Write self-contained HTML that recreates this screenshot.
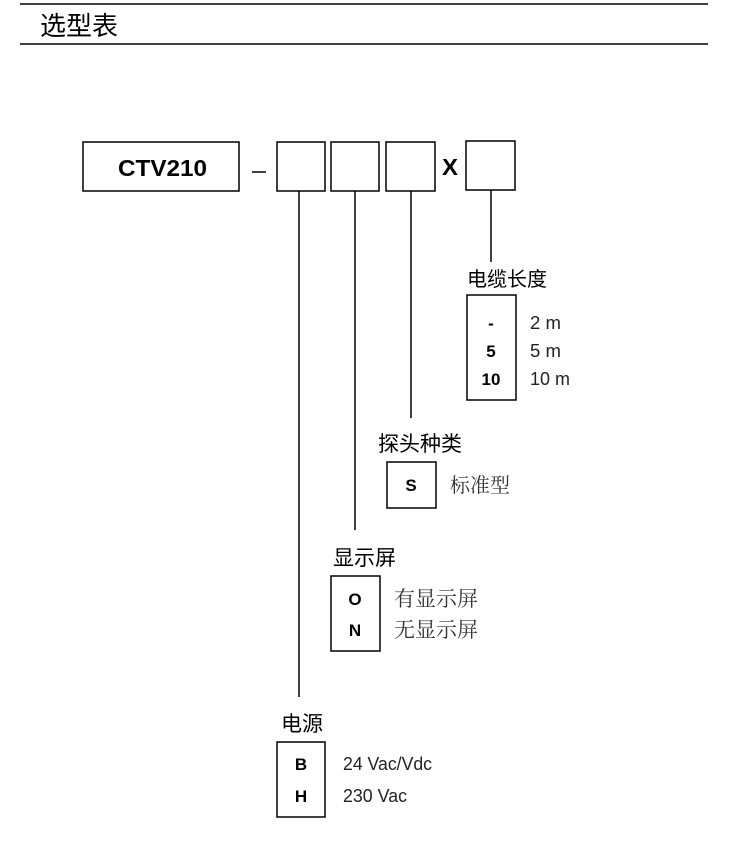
<!DOCTYPE html>
<html><head><meta charset="utf-8"><style>
body{margin:0;background:#fff;}
svg{display:block}
.cn{font-family:"Liberation Sans","Noto Sans CJK SC",sans-serif;}
.b{font-family:"Liberation Sans",sans-serif;font-weight:bold;}
.r{font-family:"Liberation Sans",sans-serif;}
.s{font-family:"Noto Serif CJK SC","Noto Sans CJK SC",serif;}
</style></head><body>
<svg width="750" height="860" viewBox="0 0 750 860" xmlns="http://www.w3.org/2000/svg">
<g stroke="#000" stroke-width="1.5" fill="none">
<line x1="20" y1="4" x2="708" y2="4"/>
<line x1="20" y1="44" x2="708" y2="44"/>
<rect x="83" y="142" width="156" height="49"/>
<line x1="252" y1="172" x2="266" y2="172"/>
<rect x="277" y="142" width="48" height="49"/>
<rect x="331" y="142" width="48" height="49"/>
<rect x="386" y="142" width="49" height="49"/>
<rect x="466" y="141" width="49" height="49"/>
<line x1="299" y1="191" x2="299" y2="697"/>
<line x1="355" y1="191" x2="355" y2="530"/>
<line x1="411" y1="191" x2="411" y2="418"/>
<line x1="491" y1="190" x2="491" y2="262"/>
<rect x="467" y="295" width="49" height="105"/>
<rect x="387" y="462" width="49" height="46"/>
<rect x="331" y="576" width="49" height="75"/>
<rect x="277" y="742" width="48" height="75"/>
</g>
<text x="40" y="35" class="cn" font-size="26">选型表</text>
<text x="118" y="176" class="b" font-size="23" textLength="89" lengthAdjust="spacingAndGlyphs">CTV210</text>
<text x="442" y="175" class="b" font-size="23" textLength="16" lengthAdjust="spacingAndGlyphs">X</text>
<text x="467" y="286" class="cn" font-size="20">电缆长度</text>
<g class="b" font-size="17" text-anchor="middle">
<text x="491" y="329">-</text>
<text x="491" y="357">5</text>
<text x="491" y="385">10</text>
<text x="411" y="491">S</text>
<text x="355" y="605">O</text>
<text x="355" y="636">N</text>
<text x="301" y="770">B</text>
<text x="301" y="802">H</text>
</g>
<g class="r" font-size="18" fill="#222">
<text x="530" y="329" textLength="31" lengthAdjust="spacingAndGlyphs">2 m</text>
<text x="530" y="357" textLength="31" lengthAdjust="spacingAndGlyphs">5 m</text>
<text x="530" y="385" textLength="40" lengthAdjust="spacingAndGlyphs">10 m</text>
<text x="343" y="770" textLength="89" lengthAdjust="spacingAndGlyphs">24 Vac/Vdc</text>
<text x="343" y="802" textLength="64" lengthAdjust="spacingAndGlyphs">230 Vac</text>
</g>
<text x="378" y="451" class="cn" font-size="21">探头种类</text>
<text x="450" y="492" class="s" font-size="20" fill="#333">标准型</text>
<text x="333" y="565" class="cn" font-size="21">显示屏</text>
<text x="394" y="606" class="s" font-size="21" fill="#333">有显示屏</text>
<text x="394" y="637" class="s" font-size="21" fill="#333">无显示屏</text>
<text x="281" y="731" class="cn" font-size="21">电源</text>
</svg>
</body></html>
